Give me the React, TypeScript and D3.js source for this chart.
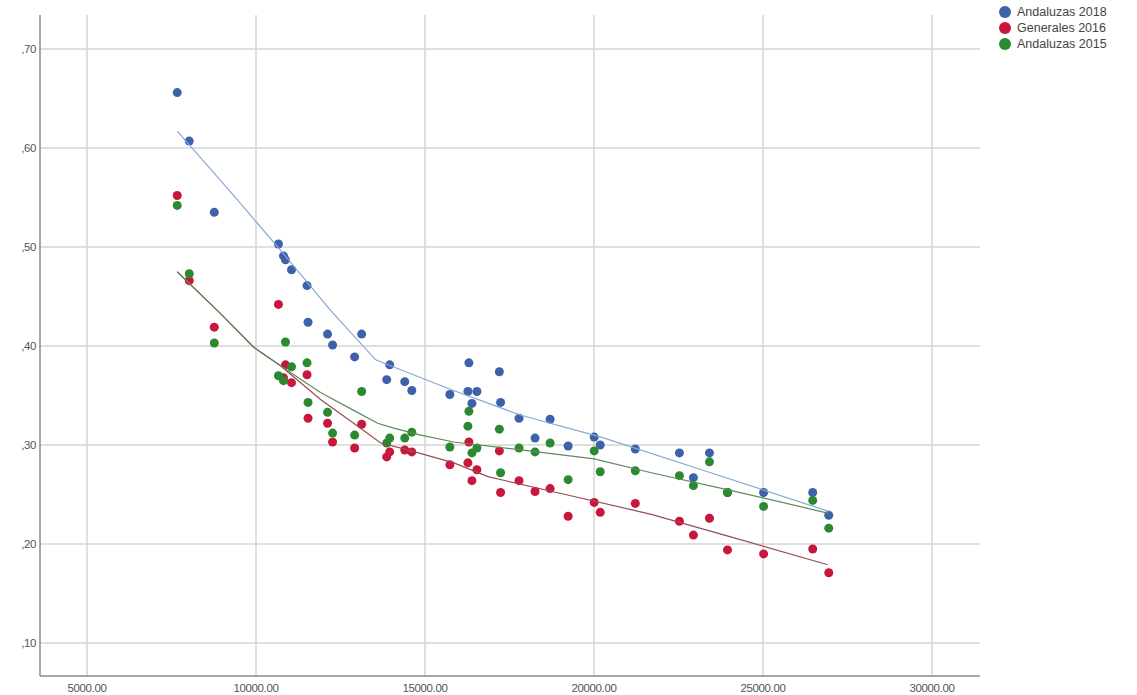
import * as d3 from 'd3';

// shared x (income) per municipality
const incomes = [
  7669, 8025, 8766, 10664, 10813, 10872, 11050, 11510, 11540, 12117, 12266, 12918, 13126,
  13867, 13956, 14401, 14609, 15735, 16269, 16299, 16536, 16388, 17200, 17236, 17782, 18256,
  18701, 19235, 20006, 20184, 21222, 22527, 22942, 23416, 23950, 25018, 26471, 26945,
];

const andaluzas2018 = [
  0.656, 0.607, 0.535, 0.503, 0.491, 0.487, 0.477, 0.461, 0.424, 0.412, 0.401, 0.389, 0.412,
  0.366, 0.381, 0.364, 0.355, 0.351, 0.354, 0.383, 0.354, 0.342, 0.374, 0.343, 0.327, 0.307,
  0.326, 0.299, 0.308, 0.3, 0.296, 0.292, 0.267, 0.292, 0.252, 0.252, 0.252, 0.229,
];

const generales2016 = [
  0.552, 0.466, 0.419, 0.442, 0.368, 0.381, 0.363, 0.371, 0.327, 0.322, 0.303, 0.297, 0.321,
  0.288, 0.293, 0.295, 0.293, 0.28, 0.282, 0.303, 0.275, 0.264, 0.294, 0.252, 0.264, 0.253,
  0.256, 0.228, 0.242, 0.232, 0.241, 0.223, 0.209, 0.226, 0.194, 0.19, 0.195, 0.171,
];

const andaluzas2015 = [
  0.542, 0.473, 0.403, 0.37, 0.365, 0.404, 0.379, 0.383, 0.343, 0.333, 0.312, 0.31, 0.354,
  0.302, 0.307, 0.307, 0.313, 0.298, 0.319, 0.334, 0.297, 0.292, 0.316, 0.272, 0.297, 0.293,
  0.302, 0.265, 0.294, 0.273, 0.274, 0.269, 0.259, 0.283, 0.252, 0.238, 0.244, 0.216,
];

// loess fit lines
const fit2018X = [7669, 9241, 10842, 12206, 13541, 14282, 15765, 17841, 20214, 23179, 26945];
const fit2018Y = [0.617, 0.556, 0.492, 0.436, 0.386, 0.376, 0.356, 0.33, 0.308, 0.275, 0.233];

const fit2016X = [7669, 8944, 9923, 10724, 11910, 12889, 13689, 14490, 15854, 16862, 19027, 21696, 24069, 26916];
const fit2016Y = [0.475, 0.433, 0.399, 0.38, 0.346, 0.322, 0.302, 0.295, 0.282, 0.268, 0.251, 0.23, 0.207, 0.179];

const fit2015X = [7669, 8944, 9923, 10724, 11910, 12889, 13600, 14075, 14875, 15854, 17841, 20006, 21696, 24069, 26945];
const fit2015Y = [0.475, 0.433, 0.399, 0.38, 0.353, 0.335, 0.322, 0.317, 0.31, 0.303, 0.295, 0.286, 0.272, 0.254, 0.231];

const xTicks = [5000, 10000, 15000, 20000, 25000, 30000];
const yTicks = [0.1, 0.2, 0.3, 0.4, 0.5, 0.6, 0.7];

const series = [
  { name: 'Andaluzas 2018', values: andaluzas2018, fx: fit2018X, fy: fit2018Y, color: '#3d62aa', line: '#86a8d6' },
  { name: 'Generales 2016', values: generales2016, fx: fit2016X, fy: fit2016Y, color: '#c9163d', line: '#9c4a52' },
  { name: 'Andaluzas 2015', values: andaluzas2015, fx: fit2015X, fy: fit2015Y, color: '#2b892f', line: '#5e8a5c' },
];

const W = 1137;
const H = 695;
const left = 40;
const right = 980;
const top = 15;
const bottom = 676;

export default function App() {
  const x = d3.scaleLinear().domain([5000, 30000]).range([87, 932]);
  const y = d3.scaleLinear().domain([0.1, 0.7]).range([643, 49]);
  const fmtY = (v: number) => ',' + d3.format('.2f')(v).slice(2);
  const font = '"Liberation Sans", Arial, sans-serif';

  return (
    <svg
      width={W}
      height={H}
      style={{ position: 'absolute', left: 0, top: 0, background: '#fff' }}
    >
      {/* gridlines */}
      {yTicks.map((t) => (
        <line key={'gy' + t} x1={left} x2={right} y1={y(t)} y2={y(t)} stroke="#d4d4d4" strokeWidth={1.5} />
      ))}
      {xTicks.map((t) => (
        <line key={'gx' + t} x1={x(t)} x2={x(t)} y1={top} y2={bottom} stroke="#d4d4d4" strokeWidth={1.5} />
      ))}

      {/* axes */}
      <line x1={left} x2={left} y1={top} y2={bottom} stroke="#8a8a8a" strokeWidth={1.5} />
      <line x1={left} x2={right} y1={bottom} y2={bottom} stroke="#8a8a8a" strokeWidth={1.5} />

      {yTicks.map((t) => (
        <text key={'ty' + t} x={36} y={y(t)} dy="0.35em" textAnchor="end" fontSize={11.5} letterSpacing={-0.4} fontFamily={font} fill="#555">
          {fmtY(t)}
        </text>
      ))}
      {xTicks.map((t) => (
        <text key={'tx' + t} x={x(t)} y={692} textAnchor="middle" fontSize={11.5} letterSpacing={-0.4} fontFamily={font} fill="#555">
          {d3.format('.2f')(t)}
        </text>
      ))}

      {/* points */}
      {series.map((s) => (
        <g key={s.name}>
          {s.values.map((v, i) => (
            <circle key={i} cx={x(incomes[i])} cy={y(v)} r={4.5} fill={s.color} />
          ))}
        </g>
      ))}

      {/* fit lines */}
      {series.map((s) => {
        const path = d3
          .line<number>()
          .x((_, i) => x(s.fx[i]))
          .y((d) => y(d));
        return <path key={'f' + s.name} d={path(s.fy) || ''} fill="none" stroke={s.line} strokeWidth={1.2} />;
      })}

      {/* legend */}
      {series.map((s, i) => (
        <g key={'lg' + s.name} transform={`translate(1005,${12 + i * 16})`}>
          <circle r={6} fill={s.color} />
          <text x={12} dy="0.35em" fontSize={12.5} fontFamily={font} fill="#444">
            {s.name}
          </text>
        </g>
      ))}
    </svg>
  );
}
